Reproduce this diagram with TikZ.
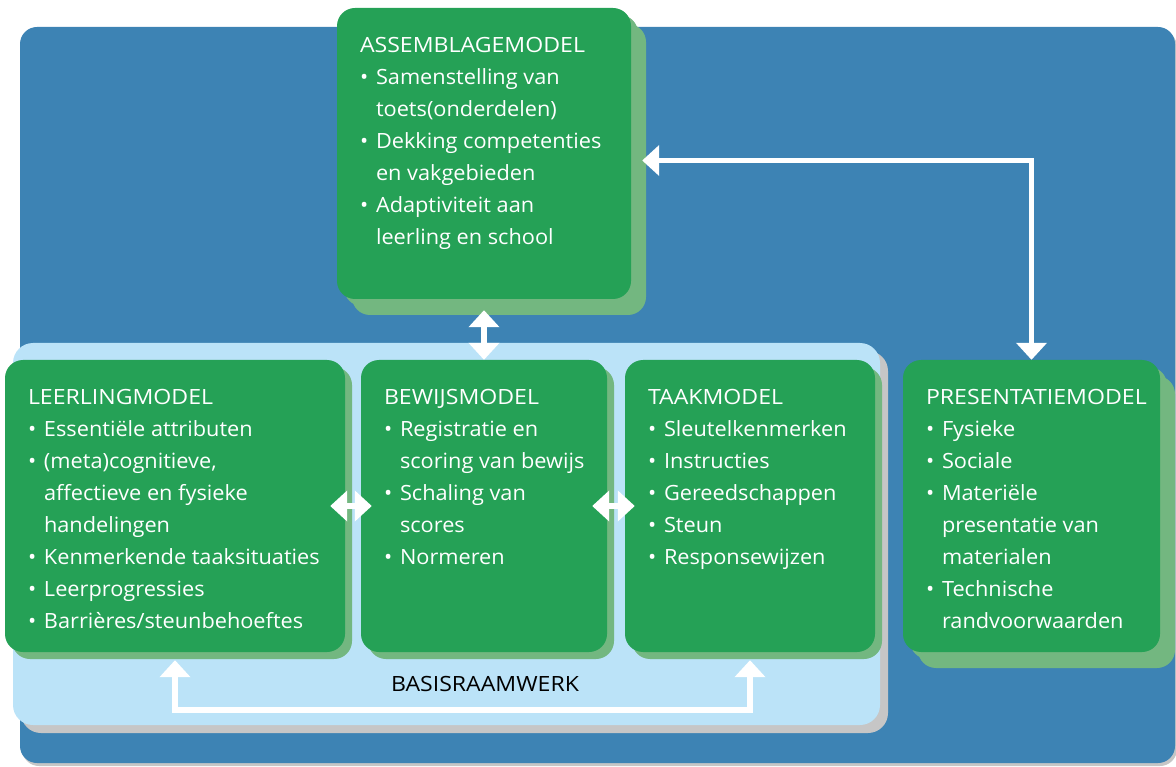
\documentclass[tikz,border=0pt]{standalone}
\usepackage{fontspec}
\setmainfont{Open Sans}[FakeStretch=1.035]
\newfontfamily\capsfont{Open Sans}[FakeStretch=1.1]
\usetikzlibrary{positioning,shadows,arrows.meta}
\definecolor{frameblue}{RGB}{61,131,180}
\definecolor{panelblue}{RGB}{187,227,248}
\definecolor{boxgreen}{RGB}{37,161,86}
\definecolor{shadegreen}{RGB}{115,183,128}
\definecolor{shadegray}{RGB}{198,198,198}
\newcommand\bul{\makebox[16pt][l]{\textbullet}}
\newcommand\ind{\hspace*{16pt}}
\newcommand\modeltitle[1]{{\capsfont #1}}

\begin{document}
\begin{tikzpicture}[x=1pt,y=-1pt,
  modelbox/.style={fill=boxgreen,rounded corners=18pt,inner sep=0pt,
    drop shadow={shadow xshift=7pt,shadow yshift=-7pt,fill=shadegreen,opacity=1}},
  bigshadow/.style={drop shadow={shadow xshift=15pt,shadow yshift=-16pt,fill=shadegreen,opacity=1}},
  modeltext/.style={text=white,align=left,inner sep=0pt,font=\fontsize{21}{32}\selectfont},
  dblarrow/.style={draw=white,line width=5.5pt,{Triangle[width=30pt,length=17pt]}-{Triangle[width=30pt,length=17pt]}}]
\useasboundingbox (0,0) rectangle (1176,767);
% achtergrond
\node[fill=frameblue,rounded corners=17pt,minimum width=1155pt,minimum height=736pt,
  drop shadow={shadow xshift=2pt,shadow yshift=-3pt,fill=shadegray,opacity=1}] (frame) at (597.5,395) {};
\node[fill=panelblue,rounded corners=20pt,minimum width=867pt,minimum height=382pt,
  drop shadow={shadow xshift=8pt,shadow yshift=-8pt,fill=shadegray,opacity=1}] (basis) at (446.5,534) {};
\node[anchor=base,font=\fontsize{21}{32}\selectfont\capsfont] (basislabel) at (485,691) {BASISRAAMWERK};

% modellen
\node[modelbox,bigshadow,minimum width=294pt,minimum height=291pt] (assemblage) at (484,153.5) {};
\node[modelbox,minimum width=340pt,minimum height=292pt] (leerling) at (175,506) {};
\node[modelbox,minimum width=246pt,minimum height=292pt] (bewijs) at (484,506) {};
\node[modelbox,minimum width=250pt,minimum height=292pt] (taak) at (750,506) {};
\node[modelbox,bigshadow,minimum width=257pt,minimum height=292pt] (presentatie) at (1031.5,506) {};

\node[modeltext,below right=29pt and 23pt of assemblage.north west] (assemblagetxt) {\modeltitle{ASSEMBLAGEMODEL}\\
  \bul Samenstelling van\\ \ind toets(onderdelen)\\
  \bul Dekking competenties\\ \ind en vakgebieden\\
  \bul Adaptiviteit aan\\ \ind leerling en school};
\node[modeltext,below right=29pt and 23pt of leerling.north west] (leerlingtxt) {\modeltitle{LEERLINGMODEL}\\
  \bul Essentiële attributen\\
  \bul (meta)cognitieve,\\ \ind affectieve en fysieke\\ \ind handelingen\\
  \bul Kenmerkende taaksituaties\\
  \bul Leerprogressies\\
  \bul Barrières/steunbehoeftes};
\node[modeltext,below right=29pt and 23pt of bewijs.north west] (bewijstxt) {\modeltitle{BEWIJSMODEL}\\
  \bul Registratie en\\ \ind scoring van bewijs\\
  \bul Schaling van\\ \ind scores\\
  \bul Normeren};
\node[modeltext,below right=29pt and 23pt of taak.north west] (taaktxt) {\modeltitle{TAAKMODEL}\\
  \bul Sleutelkenmerken\\
  \bul Instructies\\
  \bul Gereedschappen\\
  \bul Steun\\
  \bul Responsewijzen};
\node[modeltext,below right=29pt and 23pt of presentatie.north west] (presentatietxt) {\modeltitle{PRESENTATIEMODEL}\\
  \bul Fysieke\\
  \bul Sociale\\
  \bul Materiële\\ \ind presentatie van\\ \ind materialen\\
  \bul Technische\\ \ind randvoorwaarden};

% pijlen
\coordinate (onder) at (0,710);
\draw[dblarrow] ([yshift=-11pt]assemblage.south) -- (bewijs.north);
\draw[dblarrow] ([xshift=-15pt]leerling.east) -- ([xshift=11pt]bewijs.west);
\draw[dblarrow] ([xshift=-15pt]bewijs.east) -- ([xshift=10pt]taak.west);
\draw[dblarrow] ([xshift=11pt,yshift=-7pt]assemblage.east) -| (presentatie.north);
\draw[dblarrow] ([yshift=-8pt]leerling.south) -- (leerling.south |- onder) -- (taak.south |- onder) -- ([yshift=-8pt]taak.south);
\end{tikzpicture}
\end{document}
